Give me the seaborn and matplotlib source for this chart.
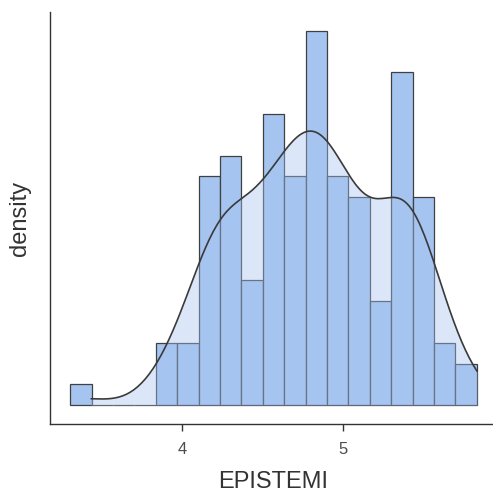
import numpy as np
import pandas as pd
import matplotlib
matplotlib.use("Agg")
import matplotlib.pyplot as plt
import seaborn as sns

# ---- data ----
bin_start = 3.30
bin_width = 0.13355
counts = [1, 0, 0, 0, 3, 3, 11, 12, 6, 14, 11, 18, 11, 10, 5, 16, 10, 3, 2]
data_range = (3.43, 5.84)   # observed min / max of EPISTEMI (density support)
x_ticks = [4, 5]
x_label = "EPISTEMI"
y_label = "density"

edges = bin_start + bin_width * np.arange(len(counts) + 1)
centers = (edges[:-1] + edges[1:]) / 2
values = np.repeat(centers, counts)
df = pd.DataFrame({"EPISTEMI": values})

sns.set_style("white")
plt.rcParams["font.family"] = ["Liberation Sans", "DejaVu Sans"]

W, H = 493, 494
fig = plt.figure(figsize=(W / 100, H / 100), dpi=100)
ax = fig.add_axes([50 / W, (H - 424) / H, (497 - 50) / W, (424 - 12) / H])

bar_color = "#a5c4f0"
bw = 0.96
sns.histplot(data=df, x="EPISTEMI", bins=edges, stat="density",
             color=bar_color, alpha=1, edgecolor="#404040", linewidth=0.9, ax=ax)
sns.kdeplot(data=df, x="EPISTEMI", bw_adjust=bw, clip=data_range, fill=True,
            color=bar_color, alpha=0.4, linewidth=0, ax=ax)
sns.kdeplot(data=df, x="EPISTEMI", bw_adjust=bw, clip=data_range, fill=False,
            color="#3a3a3a", linewidth=1.2, ax=ax)

rng = edges[-1] - edges[0]
ax.set_xlim(edges[0] - 0.05 * rng, edges[-1] + 0.05 * rng)
ymax = max(counts) / (sum(counts) * bin_width)
ax.set_ylim(-0.05 * ymax, 1.05 * ymax)

ax.set_xticks(x_ticks)
ax.set_xticklabels([str(t) for t in x_ticks])
ax.set_yticks([])
ax.tick_params(axis="x", direction="out", length=5, width=1, color="#333333",
               labelsize=12, labelcolor="#4d4d4d", pad=8, bottom=True)
ax.set_xlabel(x_label, fontsize=17, color="#333333", labelpad=10)
ax.set_ylabel(y_label, fontsize=17, color="#333333", labelpad=14)

for s in ["top", "right"]:
    ax.spines[s].set_visible(False)
for s in ["left", "bottom"]:
    ax.spines[s].set_color("#333333")
    ax.spines[s].set_linewidth(1.0)

fig.savefig("out.png", dpi=100)
